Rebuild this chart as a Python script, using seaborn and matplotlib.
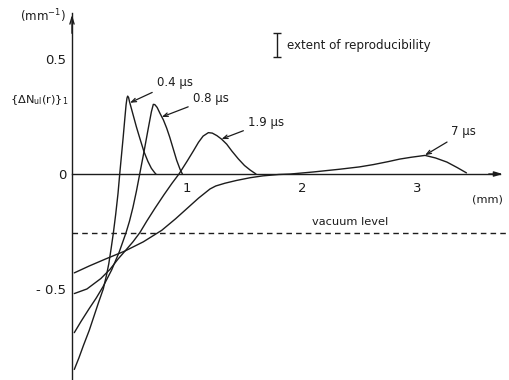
import matplotlib
matplotlib.use("Agg")
import matplotlib.pyplot as plt
import pandas as pd
import seaborn as sns

# radius r (mm) and {dN_ul(r)}_1 (mm^-1)
r_04 = [0.02, 0.06, 0.10, 0.15, 0.19, 0.23, 0.272, 0.30, 0.32, 0.34, 0.36, 0.38,
        0.40, 0.415, 0.43, 0.445, 0.46, 0.47, 0.478, 0.484, 0.492, 0.50, 0.53, 0.56,
        0.59, 0.626, 0.66, 0.69, 0.72, 0.73]
n_04 = [-0.85, -0.80, -0.745, -0.68, -0.62, -0.56, -0.50, -0.44, -0.39, -0.325, -0.255, -0.175,
        -0.085, 0.0, 0.08, 0.16, 0.245, 0.30, 0.33, 0.339, 0.333, 0.315, 0.26, 0.205,
        0.155, 0.097, 0.055, 0.025, 0.005, 0.0]

r_08 = [0.02, 0.08, 0.15, 0.21, 0.27, 0.345, 0.41, 0.47, 0.50, 0.53, 0.56, 0.585,
        0.626, 0.66, 0.69, 0.707, 0.72, 0.74, 0.765, 0.795, 0.823, 0.85, 0.88, 0.91,
        0.94, 0.96]
n_08 = [-0.69, -0.64, -0.585, -0.54, -0.49, -0.417, -0.34, -0.255, -0.205, -0.145, -0.075, -0.01,
        0.097, 0.19, 0.27, 0.303, 0.302, 0.29, 0.264, 0.235, 0.20, 0.16, 0.11, 0.06,
        0.02, 0.0]

r_19 = [0.02, 0.13, 0.25, 0.33, 0.40, 0.47, 0.53, 0.59, 0.65, 0.72, 0.80, 0.87,
        0.93, 1.0, 1.055, 1.10, 1.14, 1.186, 1.22, 1.26, 1.30, 1.345, 1.39, 1.446,
        1.50, 1.55, 1.60]
n_19 = [-0.52, -0.50, -0.455, -0.415, -0.37, -0.33, -0.295, -0.255, -0.205, -0.15, -0.09, -0.04,
        0.0, 0.055, 0.10, 0.138, 0.165, 0.18, 0.178, 0.167, 0.152, 0.13, 0.10, 0.066,
        0.037, 0.017, 0.0]

r_7 = [0.02, 0.15, 0.29, 0.46, 0.62, 0.70, 0.78, 0.90, 1.0, 1.1, 1.2, 1.25,
       1.33, 1.43, 1.55, 1.66, 1.8, 1.9, 2.1, 2.33, 2.5, 2.62, 2.75, 2.85,
       2.95, 3.07, 3.16, 3.26, 3.35, 3.43]
n_7 = [-0.43, -0.40, -0.37, -0.335, -0.295, -0.27, -0.245, -0.195, -0.15, -0.105, -0.065, -0.052,
       -0.04, -0.028, -0.016, -0.008, -0.002, 0.0, 0.009, 0.021, 0.031, 0.041, 0.054, 0.065,
       0.073, 0.081, 0.07, 0.052, 0.028, 0.005]

delays = ["0.4 μs", "0.8 μs", "1.9 μs", "7 μs"]
vacuum_level = -0.255
x_ticks = [1, 2, 3]
y_ticks = [-0.5, 0, 0.5]
y_tick_labels = ["- 0.5", "0", "0.5"]

curves = pd.concat(
    [pd.DataFrame({"r": r, "dn": n, "delay": d})
     for r, n, d in zip([r_04, r_08, r_19, r_7], [n_04, n_08, n_19, n_7], delays)],
    ignore_index=True,
)

sns.set_style("white")
plt.rcParams["font.family"] = ["DejaVu Sans"]
plt.rcParams["mathtext.fontset"] = "dejavusans"
plt.rcParams["mathtext.default"] = "regular"

ink = "#1c1c1c"
fig = plt.figure(figsize=(5.1, 3.8), dpi=100)
ax = fig.add_axes([72 / 510, 0, 437 / 510, 1])

sns.lineplot(data=curves, x="r", y="dn", hue="delay", palette=[ink] * 4,
             estimator=None, sort=False, legend=False, lw=1.0, ax=ax)
ax.axhline(vacuum_level, color=ink, lw=1.0, ls=(0, (4, 3)))

ax.set_xlim(0, 3.8)
ax.set_ylim(-0.896, 0.757)

# axes drawn through the origin, with arrowheads
for side in ["top", "right"]:
    ax.spines[side].set_visible(False)
ax.spines["left"].set_position(("data", 0))
ax.spines["bottom"].set_position(("data", 0))
ax.spines["left"].set_bounds(-0.89, 0.70)
ax.spines["bottom"].set_bounds(0, 3.72)
for side in ["left", "bottom"]:
    ax.spines[side].set_color(ink)
    ax.spines[side].set_linewidth(1.0)
ax.annotate("", xy=(3.77, 0), xytext=(3.6, 0),
            arrowprops=dict(arrowstyle="-|>,head_length=0.5,head_width=0.15", color=ink, lw=1.0))
ax.annotate("", xy=(0, 0.705), xytext=(0, 0.6),
            arrowprops=dict(arrowstyle="->,head_length=0.5,head_width=0.15", color=ink, lw=1.0))

ax.set_xticks(x_ticks)
ax.set_xticklabels([str(t) for t in x_ticks])
ax.set_yticks(y_ticks)
ax.set_yticklabels(y_tick_labels)
ax.tick_params(axis="both", direction="in", length=4, width=1.0, color=ink,
               labelcolor=ink, labelsize=9.5)
ax.tick_params(axis="x", pad=6)
ax.tick_params(axis="y", pad=4)
ax.set_xlabel("")
ax.set_ylabel("")

# delay labels with arrows pointing at the curves
label_spots = {
    "0.4 μs": ((0.504, 0.31), (0.735, 0.40)),
    "0.8 μs": ((0.78, 0.248), (1.05, 0.33)),
    "1.9 μs": ((1.30, 0.152), (1.53, 0.226)),
    "7 μs": ((3.07, 0.082), (3.30, 0.183)),
}
for text, (target, spot) in label_spots.items():
    ax.annotate(text, xy=target, xytext=spot, ha="left", va="center",
                fontsize=8.5, color=ink,
                arrowprops=dict(arrowstyle="->,head_length=0.4,head_width=0.15",
                                color=ink, lw=0.9, shrinkA=1, shrinkB=0))

ax.errorbar([1.78], [0.56], yerr=[0.052], color=ink, lw=1.0, capsize=3, capthick=1.0)
ax.text(1.87, 0.56, "extent of reproducibility", ha="left", va="center",
        fontsize=8.6, color=ink)
ax.text(2.09, -0.21, "vacuum level", ha="left", va="center", fontsize=8.2, color=ink)
ax.text(3.48, -0.11, "(mm)", ha="left", va="center", fontsize=8.2, color=ink)
ax.text(-0.45, 0.687, "(mm$^{-1}$)", ha="left", va="center", fontsize=8.5,
        color=ink, clip_on=False)
ax.text(-0.54, 0.32, r"$\{\Delta N_{ul}(r)\}_1$", ha="left", va="center",
        fontsize=8.2, color=ink, clip_on=False)

fig.savefig("out.png", dpi=100)
